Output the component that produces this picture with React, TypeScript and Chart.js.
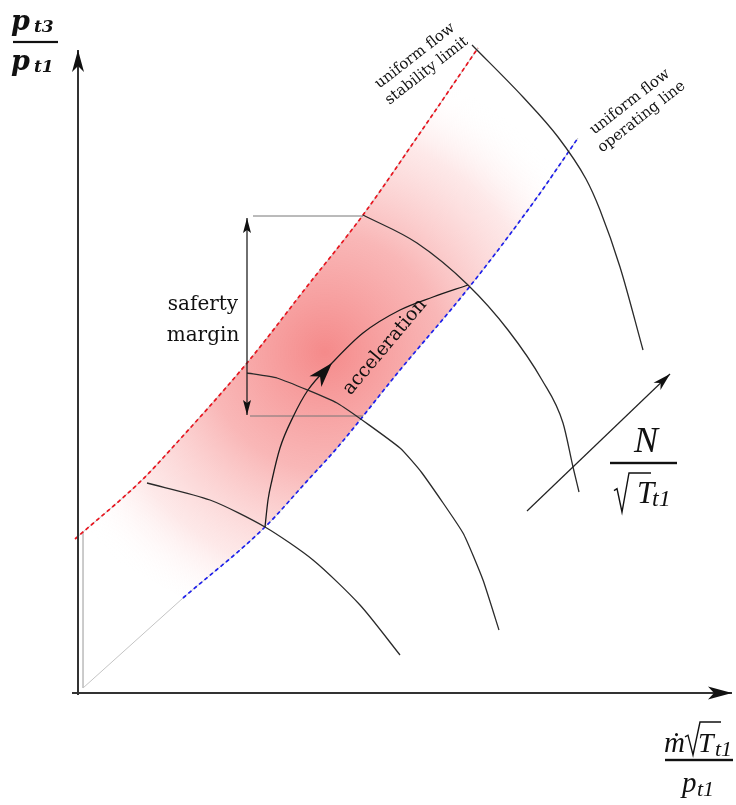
import { useEffect, useRef } from "react";
import { Chart, registerables } from "chart.js";

Chart.register(...registerables);

type P = { x: number; y: number };
const pts = (a: number[][]): P[] => a.map(([x, y]) => ({ x, y }));

// Compressor map in arbitrary units: x = corrected mass flow, y = pressure ratio
const stabilityLimit = pts([[-0.3, 15.4], [6.4, 21.3], [9.4, 24.5], [16.9, 33.0], [22.7, 40.4], [28.5, 47.8], [34.2, 56.0], [40.0, 64.5]]);
const operatingLine = pts([[10.5, 9.5], [18.7, 16.6], [23.0, 21.3], [25.9, 24.5], [32.2, 32.3], [38.9, 40.3], [45.5, 49.0], [50.0, 55.5]]);
const leadIn = pts([[0.5, 16.1], [0.5, 0.5], [10.5, 9.5]]);

// constant corrected-speed lines, low to high speed
const speedLine1 = pts([[6.9, 21.0], [13.2, 19.3], [18.7, 16.6], [23.5, 13.3], [28.2, 8.8], [32.2, 3.8]]);
const speedLine2 = pts([[16.9, 32.0], [19.9, 31.5], [25.9, 29.0], [32.2, 24.5], [34.4, 22.0], [38.5, 16.0], [40.5, 11.3], [42.1, 6.3]]);
const speedLine3 = pts([[28.5, 47.8], [33.9, 45.0], [39.0, 40.8], [43.0, 36.3], [46.4, 31.3], [48.5, 27.0], [49.5, 22.6], [50.1, 20.1]]);
const speedLine4 = pts([[39.4, 64.8], [44.5, 59.6], [48.0, 55.6], [50.8, 51.4], [52.2, 48.3], [54.2, 42.6], [56.5, 34.3]]);

// transient path during acceleration
const accelerationPath = pts([[18.7, 16.6], [19.0, 19.3], [19.4, 21.3], [20.2, 24.5], [21.5, 27.6], [23.0, 30.3], [25.4, 33.0], [28.5, 36.0], [32.2, 38.3], [35.5, 39.6], [39.0, 40.8]]);
const accelerationArrowIndex = 6;

// safety margin construction
const marginTop = pts([[17.5, 47.7], [28.5, 47.7]]);
const marginBottom = pts([[17.2, 27.7], [28.5, 27.7]]);
const marginArrow = pts([[16.9, 27.8], [16.9, 47.5]]);

// direction of increasing corrected speed
const speedArrow = pts([[44.9, 18.2], [59.2, 31.9]]);

// coordinate axes
const xAxisLine = pts([[-0.6, 0], [65.4, 0]]);
const yAxisLine = pts([[0, -0.2], [0, 64.3]]);

const SERIF = '"DejaVu Serif", serif';
const MATH = '"Liberation Serif", serif';

function arrowHead(ctx: CanvasRenderingContext2D, x: number, y: number, ang: number, len: number, hw: number, notch: number, color = "#111") {
  ctx.save();
  ctx.translate(x, y);
  ctx.rotate(ang);
  ctx.fillStyle = color;
  ctx.beginPath();
  ctx.moveTo(0, 0);
  ctx.lineTo(-len, -hw);
  ctx.lineTo(-len + notch, 0);
  ctx.lineTo(-len, hw);
  ctx.closePath();
  ctx.fill();
  ctx.restore();
}

const decorations = {
  id: "decorations",
  afterDatasetsDraw(chart: any) {
    const ctx: CanvasRenderingContext2D = chart.ctx;
    const sx = chart.scales.x;
    const sy = chart.scales.y;
    const X = (v: number) => sx.getPixelForValue(v);
    const Y = (v: number) => sy.getPixelForValue(v);
    const dir = (a: P, b: P) => Math.atan2(Y(b.y) - Y(a.y), X(b.x) - X(a.x));

    // arrowheads
    const xa = xAxisLine, ya = yAxisLine;
    arrowHead(ctx, X(xa[1].x), Y(xa[1].y), dir(xa[0], xa[1]), 24, 6.5, 6);
    arrowHead(ctx, X(ya[1].x), Y(ya[1].y), dir(ya[0], ya[1]), 22, 6, 6);
    arrowHead(ctx, X(speedArrow[1].x), Y(speedArrow[1].y), dir(speedArrow[0], speedArrow[1]), 18, 5, 5);
    const ap = accelerationPath;
    const k = accelerationArrowIndex;
    arrowHead(ctx, X(ap[k].x), Y(ap[k].y), dir(ap[k - 1], ap[k]), 25, 8, 7);
    arrowHead(ctx, X(marginArrow[1].x), Y(marginArrow[1].y), dir(marginArrow[0], marginArrow[1]), 15, 4, 3);
    arrowHead(ctx, X(marginArrow[0].x), Y(marginArrow[0].y), dir(marginArrow[1], marginArrow[0]), 15, 4, 3);

    ctx.save();
    ctx.fillStyle = "#111";
    ctx.textAlign = "center";
    ctx.textBaseline = "middle";

    // safety margin label
    ctx.font = `20px ${SERIF}`;
    ctx.fillText("saferty", X(12.5), Y(38.8));
    ctx.fillText("margin", X(12.5), Y(35.7));

    const rotated = (lines: string[], cx: number, cy: number, deg: number, font: string, lh: number) => {
      ctx.save();
      ctx.translate(X(cx), Y(cy));
      ctx.rotate((deg * Math.PI) / 180);
      ctx.font = font;
      lines.forEach((t, i) => ctx.fillText(t, 0, i * lh));
      ctx.restore();
    };
    rotated(["acceleration"], 30.7, 34.6, -50, `19px ${SERIF}`, 0);
    rotated(["uniform flow", "stability limit"], 33.7, 63.7, -38, `15px ${SERIF}`, 19);
    rotated(["uniform flow", "operating line"], 55.2, 59.1, -38, `15px ${SERIF}`, 19);

    // radical sign with overbar
    const radical = (x0: number, y0: number, w: number, h: number) => {
      ctx.save();
      ctx.strokeStyle = "#111";
      ctx.lineWidth = 1.4;
      ctx.beginPath();
      ctx.moveTo(X(x0), Y(y0) + h * 0.45);
      ctx.lineTo(X(x0) + 3, Y(y0) + h * 0.4);
      ctx.lineTo(X(x0) + 8, Y(y0) + h);
      ctx.lineTo(X(x0) + 15, Y(y0));
      ctx.lineTo(X(x0) + 15 + w, Y(y0));
      ctx.stroke();
      ctx.restore();
    };
    const bar = (x0: number, x1: number, y: number, t: number) => {
      ctx.fillRect(X(x0), Y(y) - t / 2, X(x1) - X(x0), t);
    };

    ctx.textAlign = "left";
    ctx.textBaseline = "alphabetic";

    // y-axis title: p_t3 / p_t1
    ctx.font = `bold italic 27px ${SERIF}`;
    ctx.fillText("p", X(-6.7), Y(66.3));
    ctx.fillText("p", X(-6.7), Y(62.3));
    ctx.font = `bold italic 17px ${SERIF}`;
    ctx.fillText("t3", X(-4.4), Y(66.1));
    ctx.fillText("t1", X(-4.4), Y(62.1));
    bar(-6.5, -2.0, 65.1, 2.2);

    // speed label: N / sqrt(T_t1)
    ctx.font = `italic 36px ${MATH}`;
    ctx.fillText("N", X(55.6), Y(24.1));
    bar(53.2, 59.9, 23.0, 2.4);
    radical(53.6, 22.0, 22, 39);
    ctx.font = `italic 31px ${MATH}`;
    ctx.fillText("T", X(55.9), Y(19.0));
    ctx.font = `italic 24px ${MATH}`;
    ctx.fillText("t1", X(57.4), Y(18.7));

    // x-axis title: m_dot sqrt(T_t1) / p_t1
    ctx.font = `italic 29px ${MATH}`;
    ctx.fillText("\u1E41", X(58.6), Y(-5.9));
    radical(60.7, -2.9, 21, 33);
    ctx.font = `italic 28px ${MATH}`;
    ctx.fillText("T", X(62.0), Y(-5.9));
    ctx.font = `italic 22px ${MATH}`;
    ctx.fillText("t1", X(63.7), Y(-6.3));
    bar(58.7, 65.5, -6.7, 2.4);
    ctx.font = `italic 29px ${MATH}`;
    ctx.fillText("p", X(60.4), Y(-9.9));
    ctx.font = `italic 22px ${MATH}`;
    ctx.fillText("t1", X(61.9), Y(-10.3));
    ctx.restore();
  },
};

const line = (data: P[], color: string, width: number, order: number, extra: any = {}) => ({
  data,
  showLine: true,
  borderColor: color,
  borderWidth: width,
  pointRadius: 0,
  fill: false,
  tension: 0,
  order,
  ...extra,
});

const smooth = { cubicInterpolationMode: "monotone" };

export default function App() {
  const ref = useRef<HTMLCanvasElement>(null);

  useEffect(() => {
    document.body.style.margin = "0";
    const canvas = ref.current;
    if (!canvas) return;

    const band = [...stabilityLimit, ...[...operatingLine].reverse()];

    const chart = new Chart(canvas, {
      type: "scatter",
      data: {
        datasets: [
          line(band, "rgba(0,0,0,0)", 0, 100, {
            fill: "shape",
            backgroundColor: (c: any) => {
              const ch = c.chart;
              if (!ch.chartArea) return "rgba(0,0,0,0)";
              const cx = ch.scales.x.getPixelForValue(24.7);
              const cy = ch.scales.y.getPixelForValue(34.1);
              const r = ch.scales.x.getPixelForValue(29.5) - ch.scales.x.getPixelForValue(0);
              const g = ch.ctx.createRadialGradient(cx, cy, 0, cx, cy, r);
              g.addColorStop(0, "rgba(242,105,105,0.78)");
              g.addColorStop(0.4, "rgba(245,135,135,0.6)");
              g.addColorStop(0.75, "rgba(250,185,185,0.32)");
              g.addColorStop(1, "rgba(255,255,255,0)");
              return g;
            },
          }),
          line(stabilityLimit, "#c4c4c4", 1, 90, smooth),
          line(operatingLine, "#c4c4c4", 1, 90, smooth),
          line(leadIn, "#c4c4c4", 1, 90),
          line(stabilityLimit, "rgb(232,20,30)", 1.7, 80, { borderDash: [4, 3], ...smooth }),
          line(operatingLine, "rgb(30,30,235)", 1.7, 80, { borderDash: [4, 3], ...smooth }),
          line(speedLine1, "#2a2a2a", 1.3, 50, { tension: 0.25 }),
          line(speedLine2, "#2a2a2a", 1.3, 50, { tension: 0.15 }),
          line(speedLine3, "#2a2a2a", 1.3, 50, smooth),
          line(speedLine4, "#2a2a2a", 1.3, 50, smooth),
          line(accelerationPath, "#1a1a1a", 1.3, 50, smooth),
          line(marginTop, "#777", 1, 60),
          line(marginBottom, "#777", 1, 60),
          line(marginArrow, "#222", 1.3, 40),
          line(speedArrow, "#222", 1.2, 40),
          line(xAxisLine, "#333", 2, 10),
          line(yAxisLine, "#333", 2, 10),
        ],
      },
      options: {
        responsive: false,
        animation: false,
        events: [],
        layout: { padding: 0 },
        plugins: { legend: { display: false }, tooltip: { enabled: false } },
        scales: {
          x: { type: "linear", display: false, min: -7.8, max: 65.8 },
          y: { type: "linear", display: false, min: -11.2, max: 69.3 },
        },
      },
      plugins: [decorations],
    });
    return () => chart.destroy();
  }, []);

  return <canvas ref={ref} width={736} height={805} style={{ display: "block" }} />;
}
